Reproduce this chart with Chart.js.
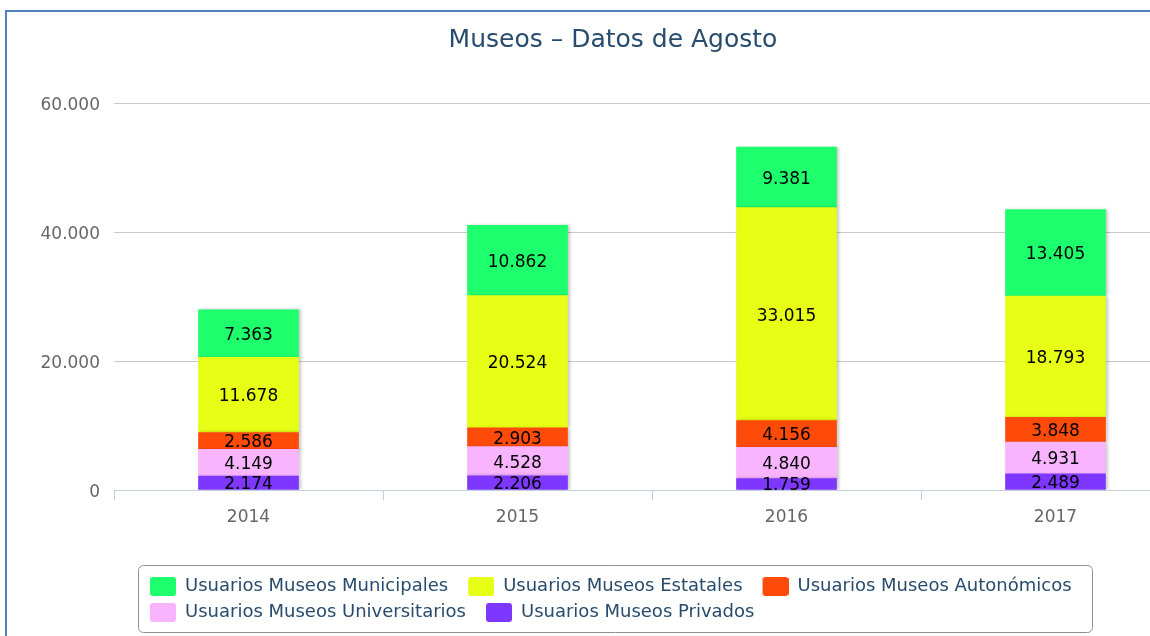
<!DOCTYPE html>
<html>
<head>
<meta charset="utf-8">
<script src="https://cdn.jsdelivr.net/npm/chart.js@4.4.1/dist/chart.umd.min.js"></script>
<style>
html,body{margin:0;padding:0;background:#fff;overflow:hidden;width:1150px;height:636px;}
#wrap{position:absolute;left:0;top:0;width:1226px;height:636px;}
#frame{position:absolute;left:5px;top:10px;width:1300px;height:700px;border-left:2px solid #4f81bd;border-top:2px solid #4f81bd;pointer-events:none;}
</style>
</head>
<body>
<div id="wrap"><canvas id="c" width="1226" height="636"></canvas></div>
<div id="frame"></div>
<script>
const chartTitle = 'Museos – Datos de Agosto';
const categories = ['2014', '2015', '2016', '2017'];
const seriesNames = [
  'Usuarios Museos Privados',
  'Usuarios Museos Universitarios',
  'Usuarios Museos Autonómicos',
  'Usuarios Museos Estatales',
  'Usuarios Museos Municipales'
];
const privados       = [2174, 2206, 1759, 2489];
const universitarios = [4149, 4528, 4840, 4931];
const autonomicos    = [2586, 2903, 4156, 3848];
const estatales      = [11678, 20524, 33015, 18793];
const municipales    = [7363, 10862, 9381, 13405];
const yTickValues    = [0, 20000, 40000, 60000];
const seriesColors   = ['#7d37ff', '#f8b4ff', '#ff4b0a', '#e6ff14', '#1eff6e'];

const FONT = '"DejaVu Sans", Verdana, sans-serif';
const fmt = v => String(v).replace(/\B(?=(\d{3})+(?!\d))/g, '.');

// legend swatches: a rounded square with some leading space so items get Highcharts-like spacing
const swatches = seriesColors.map(col => {
  const cv = document.createElement('canvas');
  cv.width = 38; cv.height = 19;
  const c = cv.getContext('2d');
  c.fillStyle = col;
  c.beginPath();
  c.roundRect(12, 0, 26, 19, 3);
  c.fill();
  return cv;
});

const seriesValues = [privados, universitarios, autonomicos, estatales, municipales];
const datasets = seriesValues.map((vals, i) => ({
  label: seriesNames[i],
  data: vals,
  backgroundColor: seriesColors[i],
  borderWidth: 0,
  barThickness: 100
}));

const barsAndLabels = {
  id: 'barsAndLabels',
  beforeDatasetsDraw(chart) {
    const ctx = chart.ctx;
    ctx.save();
    ctx.shadowColor = 'rgba(0,0,0,0.22)';
    ctx.shadowBlur = 3;
    ctx.shadowOffsetX = 2;
    ctx.shadowOffsetY = 0;
  },
  afterDatasetsDraw(chart) {
    const ctx = chart.ctx;
    ctx.restore();
    ctx.save();
    ctx.font = '17px ' + FONT;
    ctx.fillStyle = '#000';
    ctx.textAlign = 'center';
    ctx.textBaseline = 'middle';
    chart.data.datasets.forEach((ds, i) => {
      const meta = chart.getDatasetMeta(i);
      meta.data.forEach((el, j) => {
        const p = el.getProps(['x', 'y', 'base'], true);
        ctx.fillText(fmt(ds.data[j]), p.x, (p.y + p.base) / 2 + 2);
      });
    });
    ctx.restore();
  }
};

const legendPlace = {
  id: 'legendPlace',
  afterLayout(chart) {
    const lg = chart.legend;
    lg.left = 130;
    lg.right = 1095;
    lg.width = lg.right - lg.left;
    lg.top = 569.5;
    lg.bottom = 634;
    lg.height = lg.bottom - lg.top;
  },
  afterDraw(chart) {
    const ctx = chart.ctx;
    ctx.save();
    ctx.strokeStyle = '#909090';
    ctx.lineWidth = 1;
    ctx.beginPath();
    ctx.roundRect(138.5, 565.5, 954, 67, 5);
    ctx.stroke();
    ctx.restore();
  }
};

new Chart(document.getElementById('c'), {
  type: 'bar',
  data: { labels: categories, datasets: datasets },
  plugins: [barsAndLabels, legendPlace],
  options: {
    responsive: false,
    animation: false,
    devicePixelRatio: 1,
    layout: { padding: { top: 0, left: 36, right: 36, bottom: 39.6 } },
    plugins: {
      title: {
        display: true,
        text: chartTitle,
        color: '#274b6d',
        font: { family: FONT, size: 25, weight: 'normal', lineHeight: 1.2 },
        padding: { top: 25, bottom: 48 }
      },
      legend: {
        position: 'bottom',
        reverse: true,
        align: 'start',
        labels: {
          color: '#274b6d',
          font: { family: FONT, size: 18 },
          usePointStyle: true,
          pointStyleWidth: 38,
          boxHeight: 18,
          padding: 8,
          generateLabels(chart) {
            const items = Chart.defaults.plugins.legend.labels.generateLabels(chart);
            items.forEach(it => { it.pointStyle = swatches[it.datasetIndex]; it.lineWidth = 0; });
            return items;
          }
        }
      },
      tooltip: { enabled: false }
    },
    scales: {
      x: {
        stacked: true,
        grid: { display: true, drawOnChartArea: false, drawTicks: true, tickLength: 10, color: '#c0d0e0', offset: true },
        border: { display: true, color: '#c0d0e0', width: 1 },
        ticks: { color: '#666', font: { family: FONT, size: 17 }, padding: 7 }
      },
      y: {
        stacked: true,
        min: 0,
        max: 60000,
        afterBuildTicks(scale) { scale.ticks = yTickValues.map(v => ({ value: v })); },
        afterFit(scale) { scale.width = 78; },
        grid: {
          drawTicks: false,
          color: ctx => (ctx.tick && ctx.tick.value === 0) ? 'rgba(0,0,0,0)' : '#c8c8c8'
        },
        border: { display: false },
        ticks: {
          color: '#666',
          font: { family: FONT, size: 17 },
          padding: 14,
          labelOffset: 3,
          callback: v => fmt(v)
        }
      }
    }
  }
});
</script>
</body>
</html>
